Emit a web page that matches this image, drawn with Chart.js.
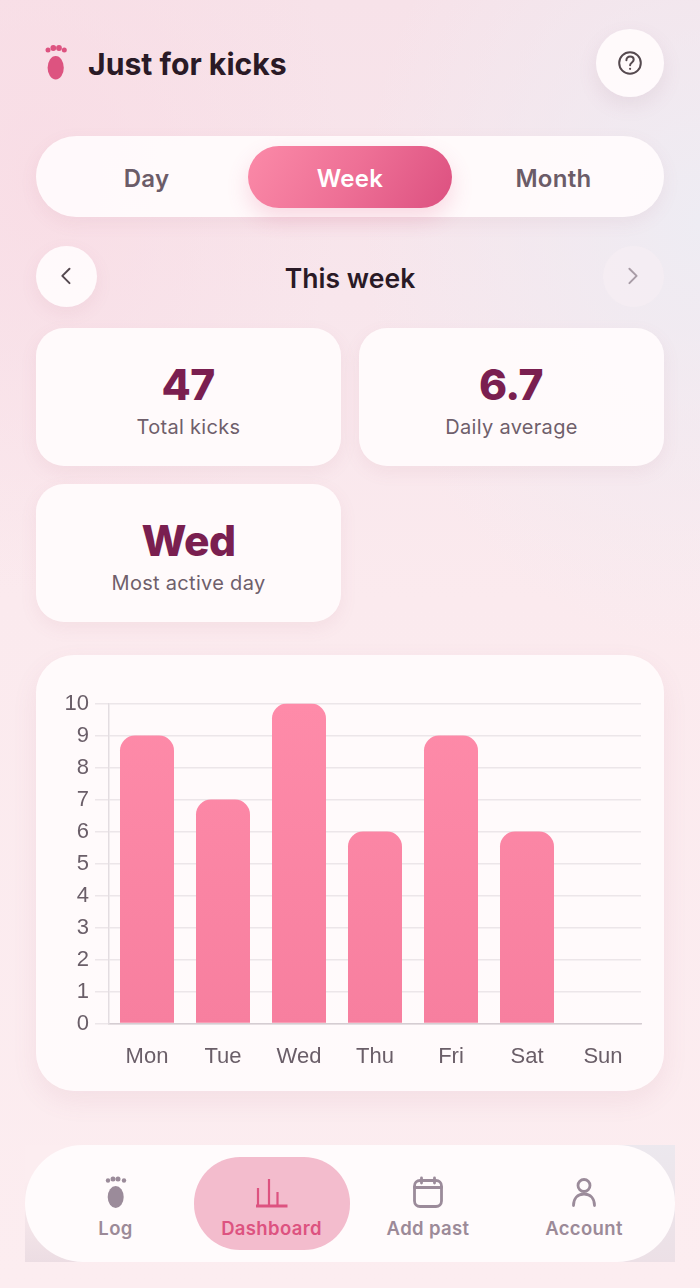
<!DOCTYPE html>
<html><head><meta charset="utf-8">
<script src="https://cdn.jsdelivr.net/npm/chart.js@4"></script>
<style>
*{box-sizing:border-box;margin:0;padding:0}
html,body{width:700px;height:1288px;overflow:hidden}
body{position:relative;font-family:Inter,sans-serif;color:#2a1a26;
background:radial-gradient(ellipse 300px 420px at 40px 170px,rgba(249,219,228,.75),rgba(249,219,228,0) 100%),radial-gradient(ellipse 340px 430px at 700px 220px,rgba(238,236,243,1),rgba(238,236,243,0) 100%),linear-gradient(180deg,#f7e2e9 0,#f8e6ec 300px,#fbeaee 600px,#fcedf0 1288px)}
.abs{position:absolute}
.card{position:absolute;background:rgba(255,251,252,.94);box-shadow:0 6px 18px rgba(170,90,120,.08)}
.t{position:absolute;text-align:center;white-space:nowrap;transform:translate(-50%,-50%)}
.stat{border-radius:28px;width:305px;height:138px}
.num{font-weight:800;font-size:42.500px;color:#7a1f50;letter-spacing:-.5px}
.lab{font-size:20px;color:#6f5f6b;letter-spacing:.3px}
.seg{font-size:24px;color:#6b5c68;letter-spacing:.3px;font-weight:560}
.nav{font-size:18.500px;font-weight:600;color:#9c8a98;letter-spacing:.35px}
svg{position:absolute}
</style></head><body>
<svg style="left:40px;top:40px" width="32" height="42" viewBox="0 0 32 42"><g fill="#dd5380"><circle cx="8" cy="10" r="2.500"/><circle cx="13.300" cy="8" r="2.900"/><circle cx="19" cy="8" r="2.900"/><circle cx="24.300" cy="10" r="2.500"/><ellipse cx="15.700" cy="27.700" rx="8.100" ry="11.700"/></g></svg>
<div class="abs" style="left:88px;top:46px;font-size:30.200px;font-weight:650;line-height:36px;letter-spacing:0">Just for kicks</div>
<div class="card" style="left:596px;top:29px;width:68px;height:68px;border-radius:50%;box-shadow:0 8px 20px rgba(150,90,120,.11)"></div>
<svg style="left:616px;top:49px" width="28" height="28" viewBox="0 0 28 28" fill="none" stroke="#55494f" stroke-width="2"><circle cx="14" cy="14" r="10.800"/><path d="M10.400 11.200c0-2.200 1.700-3.600 3.700-3.600s3.600 1.300 3.600 3.200c0 2.600-3.600 2.700-3.600 5.400" stroke-linecap="round"/><circle cx="14.100" cy="19.800" r=".5" fill="#55494f" stroke-width="1.200"/></svg>

<div class="card" style="left:36px;top:136px;width:628px;height:81px;border-radius:41px"></div>
<div class="abs" style="left:248px;top:146px;width:204px;height:62px;border-radius:31px;background:linear-gradient(120deg,#fb8aa8 0,#ee7096 50%,#dc5080 100%);box-shadow:0 10px 22px rgba(225,85,130,.2)"></div>
<div class="t seg" style="left:146.500px;top:178px">Day</div>
<div class="t seg" style="left:350px;top:178px;color:#fff">Week</div>
<div class="t seg" style="left:553.500px;top:178px">Month</div>

<div class="card" style="left:36px;top:246px;width:61px;height:61px;border-radius:50%"></div>
<div class="card" style="left:603px;top:246px;width:61px;height:61px;border-radius:50%;background:rgba(246,238,243,.75);box-shadow:none"></div>
<svg style="left:57px;top:266px" width="20" height="22" fill="none" stroke="#54484f" stroke-width="2.200" stroke-linecap="round" stroke-linejoin="round"><path d="M15 3 7 11l8 8" transform="translate(-1 0) scale(.9 .9)"/></svg>
<svg style="left:624px;top:266px" width="20" height="22" fill="none" stroke="#a89ca6" stroke-width="2.200" stroke-linecap="round" stroke-linejoin="round"><path d="M6 3l8 8-8 8" transform="scale(.9 .9)"/></svg>
<div class="t" style="left:350px;top:278px;font-size:26.500px;font-weight:590;letter-spacing:.05px">This week</div>

<div class="card stat" style="left:36px;top:328px"></div>
<div class="t num" style="left:188px;top:384px">47</div>
<div class="t lab" style="left:188.500px;top:427px">Total kicks</div>
<div class="card stat" style="left:359px;top:328px"></div>
<div class="t num" style="left:511px;top:384px">6.7</div>
<div class="t lab" style="left:511.500px;top:427px">Daily average</div>
<div class="card stat" style="left:36px;top:484px"></div>
<div class="t num" style="left:188.500px;top:540px">Wed</div>
<div class="t lab" style="left:188.500px;top:583px">Most active day</div>

<div class="card" style="left:36px;top:655px;width:628px;height:436px;border-radius:38px;box-shadow:0 10px 26px rgba(170,90,120,.09)"></div>
<div class="abs" style="left:36px;top:655px;width:628px;height:436px"><canvas id="c" width="628" height="436" style="width:628px;height:436px"></canvas></div>

<div class="abs" style="left:25px;top:1145px;width:325px;height:117px;background:linear-gradient(180deg,#fcedf0 30%,#ecdde3 100%)"></div>
<div class="abs" style="left:350px;top:1145px;width:325px;height:117px;background:linear-gradient(180deg,#ece8ee 0,#ece0e6 100%)"></div>
<div class="abs" style="left:25px;top:1145px;width:650px;height:117px;border-radius:58px;background:#fffbfc"></div>
<div class="abs" style="left:194px;top:1157px;width:156px;height:93px;border-radius:46px;background:#f3bccd"></div>
<svg style="left:100px;top:1170px" width="32" height="40" viewBox="0 0 32 40"><g fill="#9b8b9a"><circle cx="8" cy="10.500" r="2.200"/><circle cx="13" cy="9" r="2.500"/><circle cx="18" cy="9" r="2.500"/><circle cx="24" cy="10.500" r="2.200"/><ellipse cx="15.700" cy="27" rx="8" ry="11"/></g></svg>
<svg style="left:253px;top:1176px" width="36" height="34" viewBox="0 0 36 34" fill="none" stroke="#dd5380" stroke-width="2.200"><path d="M5 12v18M16 3v27M24.500 16v14"/><path d="M3 30h31.500" stroke-width="3"/></svg>
<svg style="left:410px;top:1174px" width="36" height="36" viewBox="0 0 36 36" fill="none" stroke="#9b8b9a" stroke-width="2.800" stroke-linecap="round"><rect x="4.500" y="6.500" width="27" height="26" rx="5.500"/><path d="M4.500 13.500h27M11.500 4v5M24.500 4v5"/></svg>
<svg style="left:568px;top:1176px" width="32" height="34" viewBox="0 0 32 34" fill="none" stroke="#9b8b9a" stroke-width="2.800" stroke-linecap="round"><circle cx="16" cy="9.500" r="6"/><path d="M5.500 29.500c0-7 4-11.500 10.500-11.500s10.500 4.500 10.500 11.500"/></svg>
<div class="t nav" style="left:115.500px;top:1228px">Log</div>
<div class="t nav" style="left:271.500px;top:1228px;color:#dd5380">Dashboard</div>
<div class="t nav" style="left:428px;top:1228px">Add past</div>
<div class="t nav" style="left:584px;top:1228px">Account</div>

<script>
const categories = ["Mon","Tue","Wed","Thu","Fri","Sat","Sun"];
const kicks = [9,7,10,6,9,6,0];
const yTicks = [0,1,2,3,4,5,6,7,8,9,10];
const ctx = document.getElementById('c').getContext('2d');
new Chart(ctx,{
  type:'bar',
  data:{labels:categories,datasets:[{
    data:kicks,
    backgroundColor(c){
      const a=c.chart.chartArea;
      if(!a) return '#fb86a6';
      const g=c.chart.ctx.createLinearGradient(0,a.top,0,a.bottom);
      g.addColorStop(0,'#fe8ba9');g.addColorStop(1,'#f77f9f');
      return g;
    },
    borderRadius:{topLeft:15,topRight:15,bottomLeft:0,bottomRight:0},
    borderSkipped:false,
    barPercentage:54/76,categoryPercentage:1
  }]},
  options:{
    responsive:false,animation:false,devicePixelRatio:1,
    layout:{padding:{left:0,right:23,top:48.5,bottom:0}},
    plugins:{legend:{display:false},tooltip:{enabled:false}},
    scales:{
      x:{
        grid:{display:false,drawTicks:false},
        border:{color:'#d5cdd2',width:1.5},
        ticks:{color:'#6a5e68',font:{family:'Liberation Sans',size:22},padding:20,maxRotation:0},
        afterFit(s){s.height=67.5}
      },
      y:{
        min:0,max:10,
        afterBuildTicks(s){s.ticks=yTicks.map(v=>({value:v}))},
        grid:{color:'#ece6e9',lineWidth:1.5,tickLength:14},
        border:{color:'#e3dde1',width:1.5},
        ticks:{color:'#6a5e68',font:{family:'Liberation Sans',size:22},padding:6,autoSkip:false},
        afterFit(s){s.width=73}
      }
    }
  }
});
</script>
</body></html>
